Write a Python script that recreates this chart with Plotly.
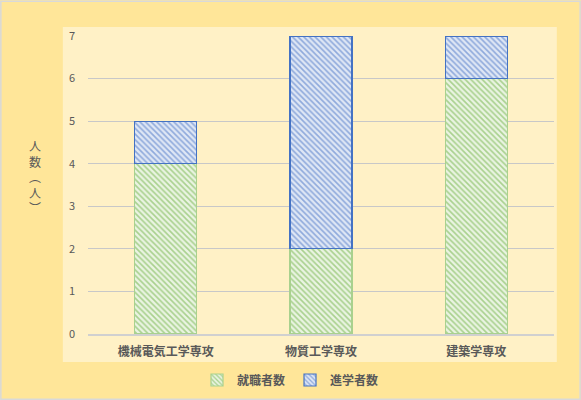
import plotly.graph_objects as go

# data
categories = ["機械電気工学専攻", "物質工学専攻", "建築学専攻"]
employed = [4, 2, 6]    # 就職者数
advanced = [1, 5, 1]    # 進学者数
series_names = ["就職者数", "進学者数"]

font_family = "Noto Sans CJK JP"
text_grey = "#595959"

fig = go.Figure()
fig.add_trace(
    go.Bar(
        x=categories,
        y=employed,
        name=series_names[0],
        marker=dict(
            color="#E2F0D9",
            line=dict(color="#A9D18E", width=1.2),
            pattern=dict(shape="\\", fgcolor="#A9D18E", bgcolor="#EAF4E2",
                         size=4, solidity=0.4, fillmode="replace"),
        ),
    )
)
fig.add_trace(
    go.Bar(
        x=categories,
        y=advanced,
        name=series_names[1],
        marker=dict(
            color="#DAE3F3",
            line=dict(color="#4472C4", width=1.2),
            pattern=dict(shape="\\", fgcolor="#8FAADC", bgcolor="#DFE7F5",
                         size=4, solidity=0.4, fillmode="replace"),
        ),
    )
)

# lighter inner area + outer frame
fig.add_shape(type="rect", xref="paper", yref="paper", layer="below",
              x0=-0.054, x1=1.006, y0=-0.094, y1=1.030,
              fillcolor="#FFF1C6", line_width=0)
fig.add_shape(type="rect", xref="paper", yref="paper", layer="below",
              x0=-0.187, x1=1.056, y0=-0.219, y1=1.117,
              fillcolor="rgba(0,0,0,0)", line=dict(color="#D9D9D9", width=1.5))

# vertical axis title
fig.add_annotation(
    text="人<br>数<br>︵<br>人<br>︶",
    xref="paper", yref="paper", x=-0.113, y=0.53, xanchor="center",
    showarrow=False, align="center",
    font=dict(family=font_family, size=12, color=text_grey),
)

fig.update_layout(
    width=581,
    height=400,
    barmode="stack",
    bargap=0.6,
    paper_bgcolor="#FFE699",
    plot_bgcolor="rgba(0,0,0,0)",
    margin=dict(l=88, r=27, t=36, b=66, autoexpand=False),
    font=dict(family=font_family, color=text_grey, size=11),
    legend=dict(
        orientation="h",
        xref="container", yref="container",
        x=0.5, xanchor="center", y=0.05, yanchor="middle",
        font=dict(size=12, weight="bold", color=text_grey),
        itemwidth=30,
        bgcolor="rgba(0,0,0,0)",
        traceorder="normal",
    ),
    xaxis=dict(
        showgrid=False,
        showline=True,
        linecolor="#D0D0D0",
        linewidth=1.5,
        tickfont=dict(size=12, weight="bold", color=text_grey),
        ticklabelstandoff=6,
    ),
    yaxis=dict(
        range=[0, 7],
        dtick=1,
        gridcolor="#C8C8C8",
        gridwidth=1,
        zeroline=False,
        showline=False,
        tickfont=dict(size=11, color=text_grey),
        ticklabelstandoff=12,
    ),
)

# page body has a default margin; drop it so the figure sits at the corner
fig.write_html(
    "out.html",
    config={"displayModeBar": False},
    post_script="document.body.style.margin='0';",
)
